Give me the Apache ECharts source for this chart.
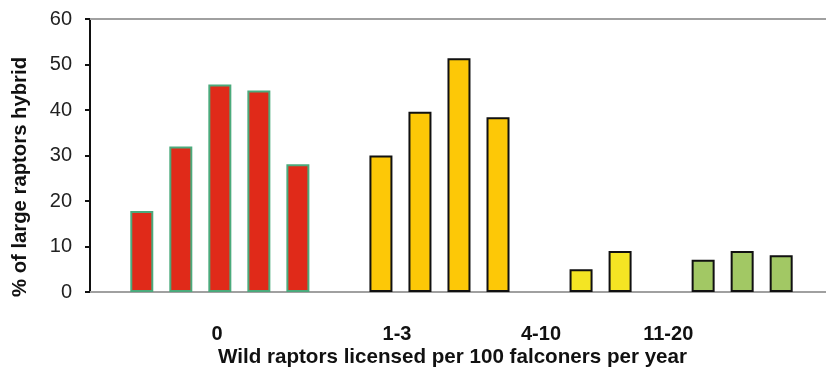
<!DOCTYPE html>
<html>
<head>
<meta charset="utf-8">
<script src="https://cdn.jsdelivr.net/npm/echarts@6/dist/echarts.min.js"></script>
<style>
html,body{margin:0;padding:0;background:#fff;}
#chart{width:826px;height:367px;}
</style>
</head>
<body>
<div id="chart"></div>
<script>
// ---- data ----
const groupLabels = ['0', '1-3', '4-10', '11-20'];
const values0 = [17.8, 32, 45.6, 44.3, 28.1];   // group "0"
const values13 = [30, 39.6, 51.4, 38.4];        // group "1-3"
const values410 = [5, 9];                        // group "4-10"
const values1120 = [7.1, 9, 8.1];                // group "11-20"
const yTicks = [0, 10, 20, 30, 40, 50, 60];
const yTitle = '% of large raptors hybrid';
const xTitle = 'Wild raptors licensed per 100 falconers per year';

// ---- layout (bar slot units) ----
const GAP = 83 / 39;             // spacing between groups relative to bar spacing
const labelSlots = [1.928, 6.54, 10.23, 13.49];
const groups = [values0, values13, values410, values1120];
let cursor = 0;
const groupData = groups.map((vals, gi) => {
  if (gi > 0) cursor += GAP - 1;
  return vals.map(v => { const p = [cursor, v]; cursor += 1; return p; });
});

const styles = [
  { color: '#E02A19', borderColor: '#4BAA7C' },
  { color: '#FDC807', borderColor: '#111' },
  { color: '#F4E523', borderColor: '#111' },
  { color: '#A2C864', borderColor: '#111' }
];

const chart = echarts.init(document.getElementById('chart'));
const font = '"Liberation Sans", Arial, sans-serif';
chart.setOption({
  animation: false,
  grid: { left: 90, right: 0, top: 19, bottom: 75 },
  xAxis: [{
    type: 'value', min: -1.327, max: 17.533, position: 'bottom',
    axisLine: { show: true, onZero: false, lineStyle: { color: '#A0A0A0', width: 2 } },
    axisTick: { show: false },
    splitLine: { show: false },
    axisLabel: {
      customValues: labelSlots,
      formatter: (v) => { const i = labelSlots.indexOf(v); return i >= 0 ? groupLabels[i] : ''; },
      fontFamily: font, fontWeight: 'bold', fontSize: 20, color: '#111', margin: 32
    }
  }, {
    type: 'value', min: -1.327, max: 17.533, position: 'top',
    axisLine: { show: true, onZero: false, lineStyle: { color: '#A0A0A0', width: 2 } },
    axisTick: { show: false }, axisLabel: { show: false }, splitLine: { show: false }
  }],
  yAxis: {
    type: 'value', min: 0, max: 60, interval: 10,
    axisLine: { show: true, onZero: false, lineStyle: { color: '#111', width: 2 } },
    axisTick: { show: true, length: 5, lineStyle: { color: '#111', width: 2 } },
    splitLine: { show: false },
    axisLabel: { fontFamily: font, fontSize: 20, color: '#222', margin: 18 }
  },
  series: groupData.map((d, i) => ({
    type: 'bar', data: d, barWidth: 23, barGap: '-100%', xAxisIndex: 0,
    itemStyle: { color: styles[i].color, borderColor: styles[i].borderColor, borderWidth: 2 }
  })),
  graphic: [
    {
      type: 'text', x: 20, y: 177, rotation: Math.PI / 2,
      style: { text: yTitle, font: 'bold 20.3px ' + font, fill: '#111', align: 'center', verticalAlign: 'middle' }
    },
    {
      type: 'text', x: 452.5, y: 357,
      style: { text: xTitle, font: 'bold 20.6px ' + font, fill: '#111', align: 'center', verticalAlign: 'middle' }
    }
  ]
});
</script>
</body>
</html>
